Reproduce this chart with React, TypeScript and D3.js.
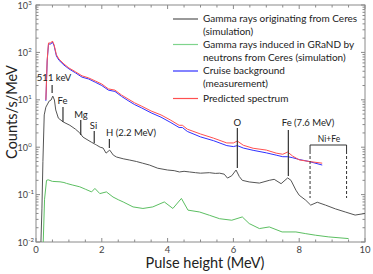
import React from "react";
import * as d3 from "d3";

const W = 373, H = 274;
const M = { left: 36, right: 365, top: 5, bottom: 242 };

const blackE = [0.15,0.18,0.21,0.25,0.30,0.40,0.46,0.51,0.56,0.60,0.68,0.83,1.03,1.20,1.33,1.43,1.55,1.68,1.80,1.84,1.95,2.04,2.13,2.24,2.35,2.45,2.65,2.85,3.05,3.24,3.45,3.7,4.0,4.2,4.36,4.5,4.67,4.85,5.0,5.27,5.45,5.58,5.72,5.82,5.95,6.08,6.18,6.27,6.48,6.79,7.09,7.24,7.45,7.65,7.75,7.9,8.0,8.2,8.35,8.55,8.8,9.1,9.4,9.7,10.0];
const blackV = [0.01,0.05,0.5,4.8,7.0,9.4,9.9,12.0,9.9,6.1,4.1,3.4,2.9,2.4,2.0,1.63,1.45,1.28,1.15,1.11,1.0,0.96,0.75,0.87,0.68,0.62,0.57,0.535,0.5,0.46,0.42,0.36,0.33,0.32,0.30,0.31,0.30,0.29,0.283,0.29,0.28,0.283,0.27,0.223,0.25,0.33,0.24,0.20,0.185,0.175,0.20,0.21,0.17,0.225,0.20,0.124,0.097,0.076,0.060,0.069,0.06,0.05,0.043,0.037,0.040];

const greenE = [0.22,0.26,0.32,0.37,0.5,0.73,0.85,0.93,1.1,1.33,1.5,1.69,1.79,1.94,2.14,2.34,2.5,2.65,2.95,3.25,3.55,3.9,4.16,4.42,4.62,4.97,5.27,5.58,5.95,6.27,6.48,6.79,7.09,7.48,7.9,8.2,8.5,8.9,9.5];
const greenV = [0.01,0.08,0.20,0.205,0.19,0.186,0.18,0.172,0.16,0.146,0.13,0.114,0.135,0.105,0.114,0.089,0.078,0.070,0.055,0.051,0.055,0.070,0.051,0.083,0.047,0.043,0.0367,0.031,0.0288,0.0338,0.0245,0.0192,0.0208,0.0163,0.0163,0.015,0.0139,0.0128,0.0118];

const specE = [0.30,0.34,0.38,0.45,0.50,0.55,0.62,0.70,0.85,1.0,1.2,1.4,1.6,1.8,2.0,2.2,2.4,2.6,2.8,3.0,3.2,3.5,3.8,4.1,4.35,4.45,4.6,5.0,5.4,5.8,6.0,6.12,6.3,6.6,7.0,7.3,7.5,7.65,7.8,8.0,8.3,8.7];
const redV = [10,69,158,158,174,145,89,72,57,47,39,32,29,25,21.5,17,16,12.6,10.4,8.6,7.4,5.8,4.8,3.7,2.9,2.9,2.4,1.9,1.55,1.23,1.23,1.35,1.1,0.95,0.87,0.75,0.71,0.79,0.65,0.54,0.50,0.46];
const blueV = [9.5,66,150,150,165,138,84,68,54,45,37,30,27.5,23.5,20,16,15,11.8,9.6,7.9,6.8,5.3,4.3,3.3,2.6,2.6,2.15,1.65,1.37,1.08,1.03,1.08,0.96,0.86,0.76,0.68,0.63,0.63,0.6,0.55,0.5,0.42];

const xTicks = [0, 2, 4, 6, 8, 10];
const yExps = [-2, -1, 0, 1, 2, 3];

const legendItems = [
  { color: "#555555", lines: ["Gamma rays originating from Ceres", "(simulation)"] },
  { color: "#7fd48c", lines: ["Gamma rays induced in GRaND by", "neutrons from Ceres (simulation)"] },
  { color: "#3030ff", lines: ["Cruise background", "(measurement)"] },
  { color: "#ff5050", lines: ["Predicted spectrum"] },
];

export default function App() {
  const x = d3.scaleLinear().domain([0, 10]).range([M.left, M.right]);
  const y = d3.scaleLog().domain([0.01, 1000]).range([M.bottom, M.top]);
  const mk = (E: number[], V: number[]) =>
    d3.line<number>().x((_, i) => x(E[i])).y((_, i) => y(V[i]))(E) || "";

  const font = "Lato, 'Liberation Sans', sans-serif";
  const axisCol = "#8a8a8a";

  const minorX: number[] = d3.range(0, 10.01, 0.5);
  const minorY: number[] = [];
  for (let e = -2; e < 3; e++) for (let k = 2; k <= 9; k++) minorY.push(k * Math.pow(10, e));

  const legendRowY = [19, 44.5, 71, 98.5];
  const lineH = 12.8;

  const ann = (E: number, y1: number, y2: number, key: string) => (
    <line key={key} x1={x(E)} x2={x(E)} y1={y1} y2={y2} stroke="#333" strokeWidth={1.2} />
  );

  return (
    <svg width={W} height={H} style={{ position: "absolute", left: 0, top: 0 }} fontFamily={font}>
      <rect width={W} height={H} fill="#fff" />
      <rect x={M.left} y={M.top} width={M.right - M.left} height={M.bottom - M.top} fill="none" stroke={axisCol} strokeWidth={1} />
      {minorX.map((t) => {
        const major = Math.abs(t % 2) < 1e-6;
        const L = major ? 4 : 2.5;
        return (
          <g key={"xt" + t}>
            <line x1={x(t)} x2={x(t)} y1={M.bottom} y2={M.bottom - L} stroke={axisCol} />
            <line x1={x(t)} x2={x(t)} y1={M.top} y2={M.top + L} stroke={axisCol} />
          </g>
        );
      })}
      {xTicks.map((t) => (
        <text key={"xl" + t} x={x(t)} y={253} fontSize={9.5} textAnchor="middle" fill="#444">{t}</text>
      ))}
      {yExps.map((e) => (
        <g key={"ym" + e}>
          <line x1={M.left} x2={M.left + 4} y1={y(Math.pow(10, e))} y2={y(Math.pow(10, e))} stroke={axisCol} />
          <line x1={M.right} x2={M.right - 4} y1={y(Math.pow(10, e))} y2={y(Math.pow(10, e))} stroke={axisCol} />
          <text x={28} y={y(Math.pow(10, e)) + 3.5} fontSize={9} textAnchor="end" fill="#444">10</text>
          <text x={28.3} y={y(Math.pow(10, e)) - 0.5} fontSize={6} textAnchor="start" fill="#444">{e}</text>
        </g>
      ))}
      {minorY.map((v, i) => (
        <g key={"yn" + i}>
          <line x1={M.left} x2={M.left + 2.5} y1={y(v)} y2={y(v)} stroke={axisCol} />
          <line x1={M.right} x2={M.right - 2.5} y1={y(v)} y2={y(v)} stroke={axisCol} />
        </g>
      ))}
      <g fill="none" strokeWidth={1} strokeLinejoin="round">
        <path d={mk(greenE, greenV)} stroke="#5cbf62" />
        <path d={mk(blackE, blackV)} stroke="#555555" />
        <path d={mk(specE, blueV)} stroke="#3030ff" />
        <path d={mk(specE, redV)} stroke="#ff5050" />
      </g>
      <g fontSize={9.5} fill="#222">
        <text x={54} y={81} textAnchor="middle">511 keV</text>
        {ann(0.49, 85, 93, "a511")}
        <text x={62.5} y={104} textAnchor="middle">Fe</text>
        {ann(0.82, 107, 122, "aFe")}
        <text x={81} y={118} textAnchor="middle">Mg</text>
        {ann(1.36, 120, 135, "aMg")}
        <text x={93.5} y={129} textAnchor="middle">Si</text>
        {ann(1.77, 131, 143, "aSi")}
        <text x={106} y={136}>H (2.2 MeV)</text>
        {ann(2.23, 139, 148, "aH")}
        <text x={x(6.12)} y={126} textAnchor="middle">O</text>
        {ann(6.12, 128, 168, "aO")}
        <text x={308} y={126} textAnchor="middle">Fe (7.6 MeV)</text>
        {ann(7.67, 130, 176, "aFe2")}
        <text x={329} y={142} textAnchor="middle" fontSize={8.5}>Ni+Fe</text>
        <path d={`M${x(8.33)},151 V145 H${x(9.44)} V151`} fill="none" stroke="#333" strokeWidth={1} />
        <line x1={x(8.33)} x2={x(8.33)} y1={151} y2={198} stroke="#333" strokeDasharray="3,2" />
        <line x1={x(9.44)} x2={x(9.44)} y1={151} y2={198} stroke="#333" strokeDasharray="3,2" />
      </g>
      {legendItems.map((it, i) => (
        <g key={"lg" + i}>
          <line x1={173} x2={198} y1={legendRowY[i]} y2={legendRowY[i]} stroke={it.color} strokeWidth={1.2} />
          {it.lines.map((s, j) => (
            <text key={j} x={203} y={legendRowY[i] + 3.3 + j * lineH} fontSize={10} fill="#222">{s}</text>
          ))}
        </g>
      ))}
      <text x={205} y={268} fontSize={14.5} textAnchor="middle" fill="#222">Pulse height (MeV)</text>
      <text transform={`translate(17,112) rotate(-90)`} fontSize={14.5} textAnchor="middle" fill="#222">Counts/s/MeV</text>
    </svg>
  );
}
